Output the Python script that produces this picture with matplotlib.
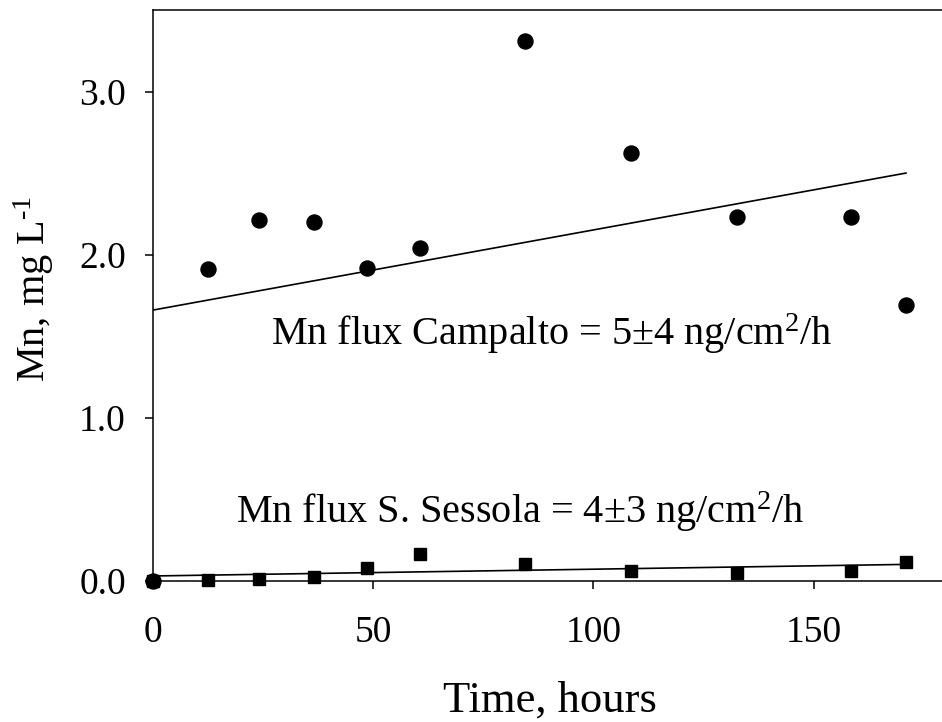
import matplotlib
matplotlib.use("Agg")
import matplotlib.pyplot as plt
import numpy as np

# ---- data ----
time_h = [0, 12.5, 24, 36.5, 48.5, 60.5, 84.5, 108.5, 132.5, 158.5, 171]
campalto = [0.0, 1.91, 2.21, 2.20, 1.92, 2.04, 3.31, 2.62, 2.23, 2.23, 1.69]
sessola = [0.0, 0.004, 0.009, 0.021, 0.076, 0.164, 0.102, 0.061, 0.045, 0.060, 0.115]

# regression lines (end points)
fit_x = [0, 171]
fit_campalto = [1.66, 2.50]
fit_sessola = [0.029, 0.100]

x_ticks = [0, 50, 100, 150]
y_ticks = [0.0, 1.0, 2.0, 3.0]
y_ticklabels = ["0.0", "1.0", "2.0", "3.0"]

label_campalto = "Mn flux Campalto = 5\u00b14 ng/cm$^{\\mathrm{2}}$/h"
label_sessola = "Mn flux S. Sessola = 4\u00b13 ng/cm$^{\\mathrm{2}}$/h"

plt.rcParams['font.family'] = ['Liberation Serif', 'DejaVu Serif']
plt.rcParams['mathtext.fontset'] = 'custom'
plt.rcParams['mathtext.rm'] = 'Liberation Serif'
plt.rcParams['mathtext.it'] = 'Liberation Serif:italic'
plt.rcParams['mathtext.bf'] = 'Liberation Serif:bold'

fig = plt.figure(figsize=(9.42, 7.22), dpi=100)
ax = fig.add_axes([153.3 / 942, 1 - 580.7 / 722, (945.6 - 153.3) / 942, (580.7 - 10) / 722])

ax.plot(fit_x, fit_sessola, color='black', lw=1.2, zorder=2)
ax.plot(fit_x, fit_campalto, color='black', lw=1.2, zorder=2)
ax.plot(time_h, sessola, linestyle='none', marker='s', markersize=8.8,
        color='black', zorder=3, clip_on=False)
ax.plot(time_h, campalto, linestyle='none', marker='o', markersize=10.8,
        color='black', zorder=4, clip_on=False)

ax.set_xlim(0, 180)
ax.set_ylim(0, 3.5)
ax.set_xticks(x_ticks)
ax.set_xticklabels([str(t) for t in x_ticks])
ax.set_yticks(y_ticks)
ax.set_yticklabels(y_ticklabels)

ax.tick_params(axis='x', direction='out', length=5.8, width=1.1, labelsize=27, pad=19)
ax.tick_params(axis='y', direction='out', length=5.8, width=1.1, labelsize=27, pad=14)
ax.tick_params(top=False, right=False)
for s in ax.spines.values():
    s.set_linewidth(1.1)

ax.set_xlabel("Time, hours", fontsize=32, va='baseline')
ax.set_ylabel("Mn, mg L$^{\\mathrm{\u2010}\\mathrm{1}}$", fontsize=29, va='baseline')
ax.xaxis.set_label_coords(0.5, -0.229)
ax.yaxis.set_label_coords(-0.1367, 0.511)

ax.text(26.7, 1.446, label_campalto, fontsize=29, ha='left', va='baseline')
ax.text(18.9, 0.354, label_sessola, fontsize=29, ha='left', va='baseline')

fig.savefig("out.png", dpi=100)
